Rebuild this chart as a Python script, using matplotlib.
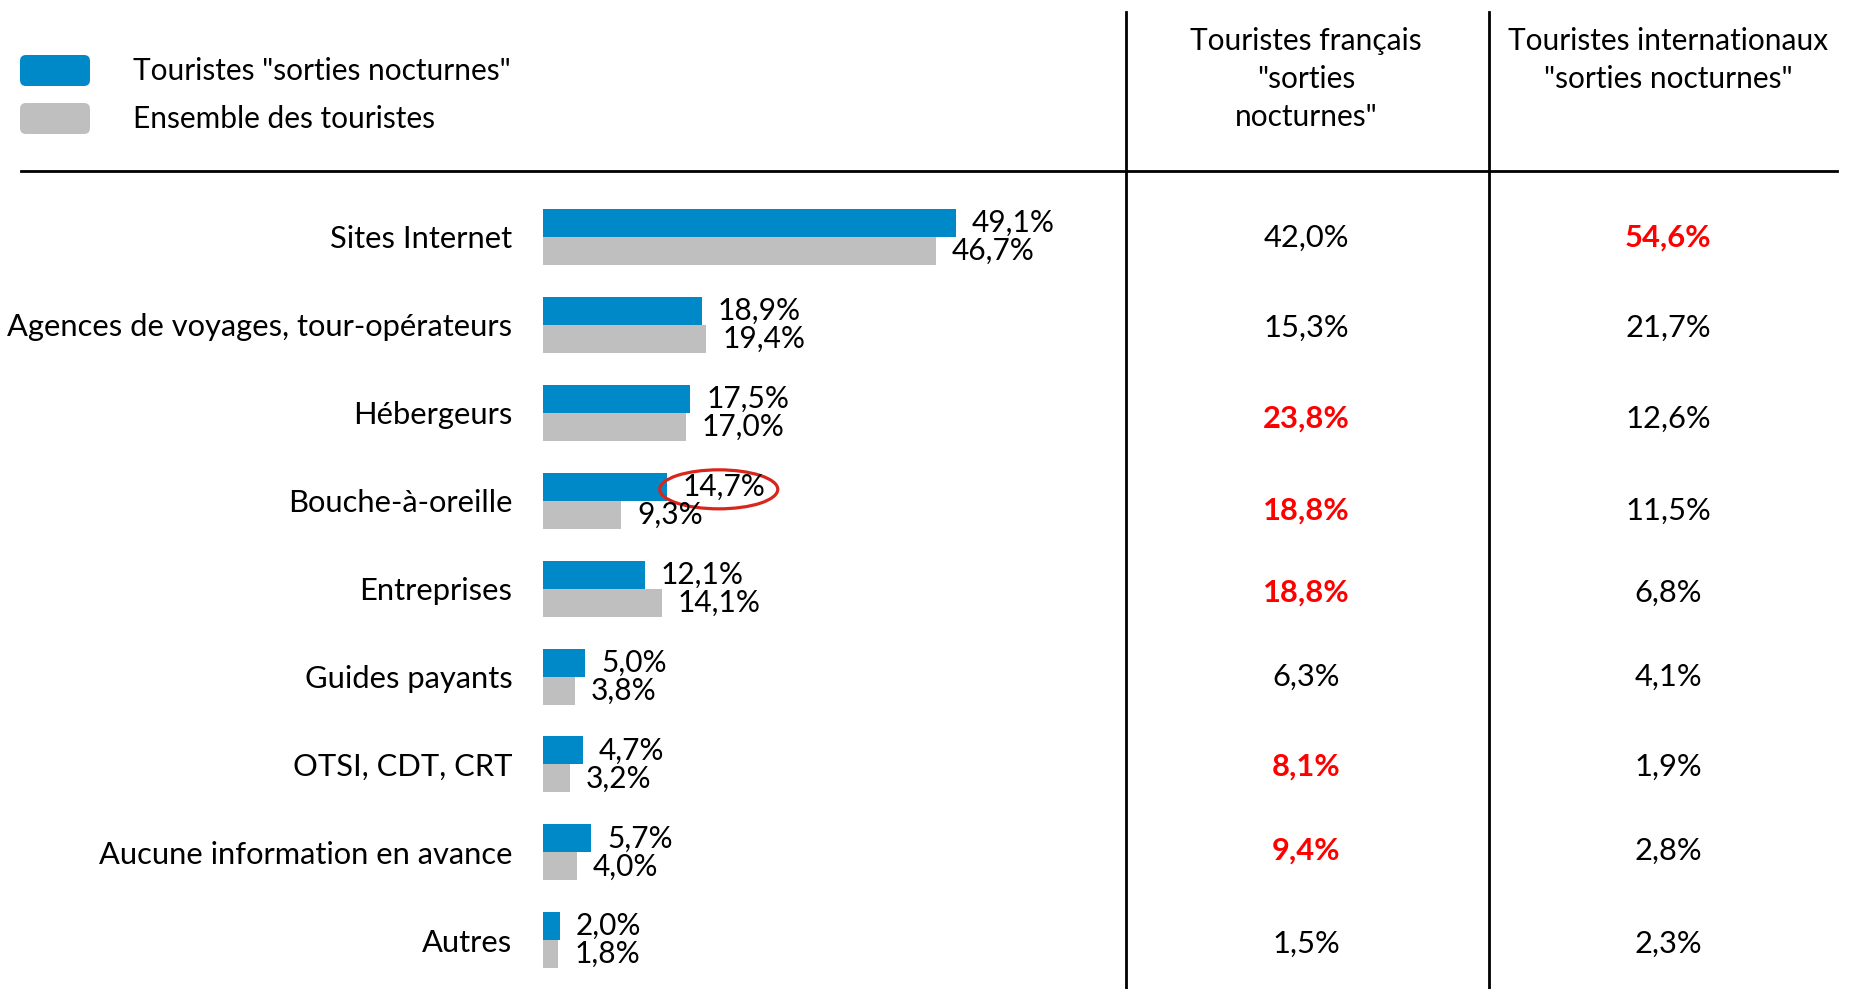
import numpy as np
import matplotlib.pyplot as plt
from matplotlib.patches import FancyBboxPatch, Ellipse

plt.rcParams['font.family'] = ['Lato', 'DejaVu Sans']

# data
categories = ['Sites Internet', 'Agences de voyages, tour-opérateurs', 'Hébergeurs',
              'Bouche-à-oreille', 'Entreprises', 'Guides payants', 'OTSI, CDT, CRT',
              'Aucune information en avance', 'Autres']
nocturnes = [49.1, 18.9, 17.5, 14.7, 12.1, 5.0, 4.7, 5.7, 2.0]
ensemble = [46.7, 19.4, 17.0, 9.3, 14.1, 3.8, 3.2, 4.0, 1.8]
francais = [42.0, 15.3, 23.8, 18.8, 18.8, 6.3, 8.1, 9.4, 1.5]
internationaux = [54.6, 21.7, 12.6, 11.5, 6.8, 4.1, 1.9, 2.8, 2.3]
francais_hl = [False, False, True, True, True, False, True, True, False]
internationaux_hl = [True, False, False, False, False, False, False, False, False]
legend_labels = ['Touristes "sorties nocturnes"', 'Ensemble des touristes']
col_headers = [['Touristes français', '"sorties', 'nocturnes"'],
               ['Touristes internationaux', '"sorties nocturnes"']]

BLUE = '#0089c9'
GREY = '#bfbfbf'
FS = 21.5
FS_CAT = 22.2

def fmt(v):
    return ('%.1f%%' % v).replace('.', ',')

W, H = 1850, 989
fig = plt.figure(figsize=(W / 100, H / 100), dpi=100)

# pixel overlay for lines, legend, table
bg = fig.add_axes([0, 0, 1, 1])
bg.set_xlim(0, W)
bg.set_ylim(H, 0)
bg.axis('off')

bg.plot([21, 1837], [171, 171], color='black', lw=2)
for x in (1126, 1489):
    bg.plot([x, x], [12, H], color='black', lw=2)

# legend
for i, (c, lab) in enumerate(zip([BLUE, GREY], legend_labels)):
    y0 = 55 + i * 48
    bg.add_patch(FancyBboxPatch((20, y0), 70, 31, boxstyle='round,pad=0,rounding_size=6',
                                facecolor=c, edgecolor='none'))
    bg.text(133, y0 + 16, lab, fontsize=FS, va='center', ha='left')

# column headers
for cx, lines in zip((1306, 1668), col_headers):
    for k, line in enumerate(lines):
        bg.text(cx, 41 + 38 * k, line, fontsize=FS, ha='center', va='center')

# bar axes
left, right, top = 543, 1126, 171
px_per = 8.41
row0, step = 237, 87.9
bx = fig.add_axes([left / W, 0, (right - left) / W, (H - top) / H])
bx.set_facecolor('none')
bx.set_xlim(0, (right - left) / px_per)
bx.set_ylim((H - row0) / step, -(row0 - top) / step)
for s in bx.spines.values():
    s.set_visible(False)
bx.set_xticks([])

y = np.arange(len(categories))
bh = 28 / step
bx.barh(y - bh / 2, nocturnes, height=bh, color=BLUE)
bx.barh(y + bh / 2, ensemble, height=bh, color=GREY)
gap = 16 / px_per
for i in range(len(categories)):
    bx.text(nocturnes[i] + gap, y[i] - bh / 2, fmt(nocturnes[i]), fontsize=FS, va='center')
    bx.text(ensemble[i] + gap, y[i] + bh / 2, fmt(ensemble[i]), fontsize=FS, va='center')

bx.set_yticks(y)
bx.set_yticklabels(categories, fontsize=FS_CAT)
bx.tick_params(axis='y', length=0, pad=22)

# highlight ellipse around 14,7%
bx.add_patch(Ellipse((nocturnes[3] + 6.2, y[3] - bh / 2 + 0.03), 118 / px_per, 39 / step,
                     fill=False, edgecolor='#d9261c', lw=2.3, clip_on=False))

# table values
table_rows = [238, 328, 419, 511, 593, 677, 767, 851, 944]
for col_x, vals, hl in ((1306, francais, francais_hl), (1668, internationaux, internationaux_hl)):
    for ty, v, h in zip(table_rows, vals, hl):
        bg.text(col_x, ty, fmt(v), fontsize=FS_CAT, ha='center', va='center',
                color='#ff0000' if h else 'black', fontweight='bold' if h else 'normal')

fig.savefig('out.png', dpi=100)
